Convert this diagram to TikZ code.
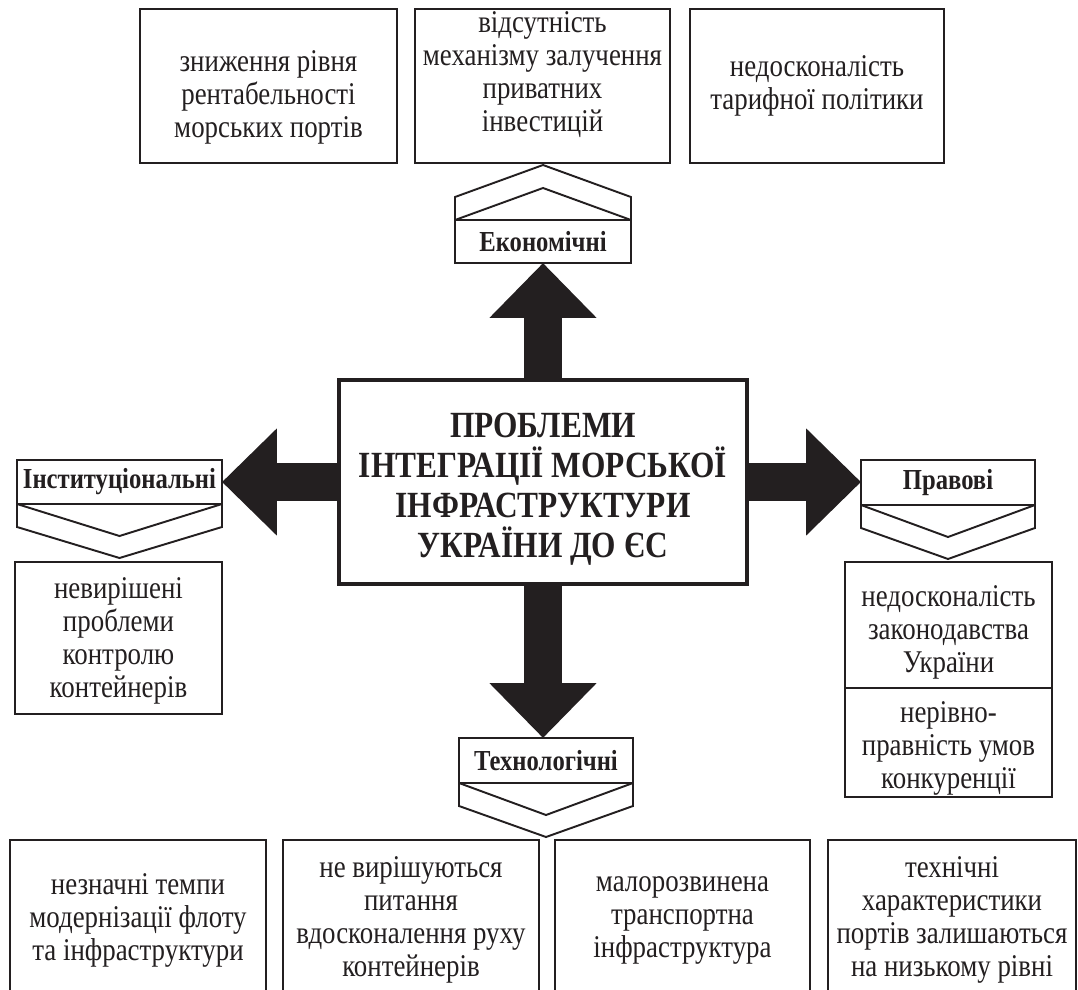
\documentclass[tikz,border=0pt]{standalone}
\usepackage{fontspec}
\setmainfont{Liberation Serif}[FakeStretch=0.85]
\usetikzlibrary{arrows.meta, positioning, calc}
\definecolor{inkblack}{HTML}{231F20}
\tikzset{
  issue box/.style={draw=inkblack, line width=1.1pt, text=inkblack, align=center, outer sep=0pt, inner sep=1pt, font=\fontsize{18}{18.8}\selectfont},
  group box/.style={draw=inkblack, line width=1.1pt, fill=white, text=inkblack, outer sep=0pt, inner sep=0pt, font=\bfseries\fontsize{16.5}{18}\selectfont},
  main box/.style={draw=inkblack, line width=2.4pt, fill=white, text=inkblack, align=center, outer sep=0pt, minimum width=8.16cm, minimum height=4.08cm, font=\bfseries\fontsize{21}{22.7}\selectfont},
  big arrow/.style={draw=inkblack, line width=0.76cm, -{Triangle[length=1.1cm, width=2.08cm]}},
  chevron/.style={draw=inkblack, line width=1.1pt, line join=miter}
}

\begin{document}
\begin{tikzpicture}[x=0.02cm, y=-0.02cm]
  \useasboundingbox (0,0) rectangle (1078,990);
  \clip (0,0) rectangle (1078,990);

  % --- Economic problems (top row) ---
  \node[issue box, minimum width=5.14cm, minimum height=3.08cm, text height=62pt] (econ1) at (268.5,86) {зниження рівня\\рентабельності\\морських портів};
  \node[issue box, minimum width=5.1cm, minimum height=3.08cm, text depth=16pt] (econ2) at (542.5,86) {відсутність\\механізму залучення\\приватних\\інвестицій};
  \node[issue box, minimum width=5.08cm, minimum height=3.08cm] (econ3) at (817,86) {недосконалість\\тарифної політики};

  % --- Central box ---
  \node[main box, text height=90pt] (problem) at (543,482) {ПРОБЛЕМИ\\ІНТЕГРАЦІЇ МОРСЬКОЇ\\ІНФРАСТРУКТУРИ\\УКРАЇНИ ДО ЄС};

  % --- Groups of problems ---
  \node[group box, minimum width=3.52cm, minimum height=0.86cm] (eco) at (543,241.5) {Економічні};
  \node[group box, minimum width=4.1cm, minimum height=0.88cm] (inst) at (119.5,482) {Інституціональні};
  \node[group box, minimum width=3.48cm, minimum height=0.9cm] (prav) at (948,482.5) {Правові};
  \node[group box, minimum width=3.48cm, minimum height=0.9cm] (tech) at (546,760.5) {Технологічні};

  % --- Thick arrows from the centre ---
  \draw[big arrow] (problem.north) -- (eco.south);
  \draw[big arrow] (problem.west) -- (inst.east);
  \draw[big arrow] (problem.east) -- (problem.east -| prav.west);
  \draw[big arrow] (problem.south) -- (problem.south |- tech.north);

  % Chevron above the economic group
  \draw[chevron] (eco.north west) -- ++(0,-23) -- ($(eco.north)+(0,-55)$) -- ($(eco.north east)+(0,-23)$) -- (eco.north east);
  \draw[chevron] (eco.north west) -- ($(eco.north)+(0,-32)$) -- (eco.north east);

  % Chevrons below the other groups
  \foreach \grp in {inst, prav, tech} {
    \draw[chevron] (\grp.south west) -- ++(0,23) -- ($(\grp.south)+(0,54)$) -- ($(\grp.south east)+(0,23)$) -- (\grp.south east);
    \draw[chevron] (\grp.south west) -- ($(\grp.south)+(0,32)$) -- (\grp.south east);
  }

  % --- Institutional and legal problems ---
  \node[issue box, minimum width=4.14cm, minimum height=3.04cm, text height=72pt] (inst1) at (118.5,638) {невирішені\\проблеми\\контролю\\контейнерів};
  \node[issue box, minimum width=4.14cm, minimum height=2.52cm, text height=58pt] (prav1) at (948.5,625) {недосконалість\\законодавства\\України};
  \node[issue box, minimum width=4.14cm, minimum height=2.18cm, text height=56pt, below=0pt of prav1] (prav2) {нерівно-\\правність умов\\конкуренції};

  % --- Technological problems (bottom row, cut by the page) ---
  \node[issue box, minimum width=5.12cm, minimum height=3.2cm] (tech1) at (138,920) {незначні темпи\\модернізації флоту\\та інфраструктури};
  \node[issue box, minimum width=5.12cm, minimum height=3.2cm] (tech2) at (411,920) {не вирішуються\\питання\\вдосконалення руху\\контейнерів};
  \node[issue box, minimum width=5.1cm, minimum height=3.2cm] (tech3) at (682.5,920) {малорозвинена\\транспортна\\інфраструктура};
  \node[issue box, minimum width=4.96cm, minimum height=3.2cm] (tech4) at (952,920) {технічні\\характеристики\\портів залишаються\\на низькому рівні};
\end{tikzpicture}
\end{document}
